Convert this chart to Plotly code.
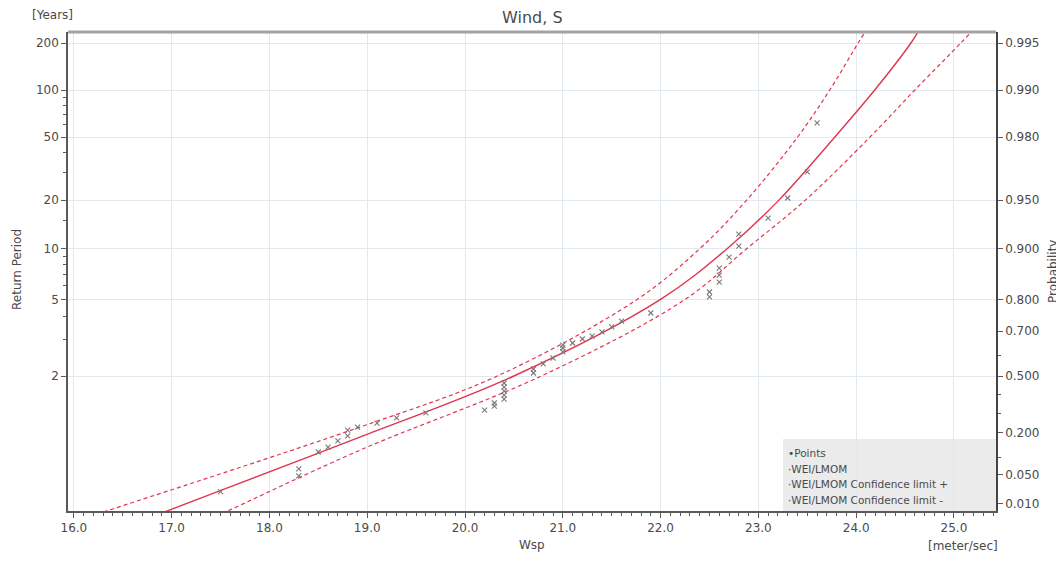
import numpy as np
import plotly.graph_objects as go

# ---------------- data ----------------
# empirical points: wind speed [m/s] and return period [years]
wsp_points = [17.5, 18.3, 18.3, 18.5, 18.6, 18.7, 18.8, 18.8, 18.9, 19.1, 19.3, 19.6,
              20.2, 20.3, 20.3, 20.4, 20.4, 20.4, 20.4, 20.4, 20.7, 20.7, 20.8, 20.9,
              21.0, 21.0, 21.0, 21.1, 21.2, 21.3, 21.4, 21.5, 21.6, 21.9, 22.5, 22.5,
              22.6, 22.6, 22.6, 22.7, 22.8, 22.8, 23.1, 23.3, 23.5, 23.6]
rp_points = [1.022, 1.050, 1.069, 1.134, 1.159, 1.195, 1.228, 1.272, 1.296, 1.331, 1.380, 1.432,
             1.465, 1.513, 1.552, 1.606, 1.664, 1.726, 1.792, 1.864, 2.063, 2.152, 2.272, 2.427,
             2.599, 2.722, 2.818, 2.887, 3.028, 3.138, 3.298, 3.509, 3.779, 4.189, 5.165, 5.519,
             6.313, 6.944, 7.645, 8.905, 10.38, 12.30, 15.45, 20.62, 30.1, 61.6]

# fitted WEI/LMOM curve
fit_wsp = [16.81, 16.95, 17.49, 18.93, 20.50, 22.00, 22.68, 23.21, 23.78, 24.19, 24.56, 24.64]
fit_rp = [1.004, 1.006, 1.023, 1.221, 2, 5, 10, 20, 50, 100, 200, 240]

# confidence limit +
upper_wsp = [16.17, 16.33, 18.93, 20.33, 21.76, 22.40, 22.88, 23.40, 23.73, 24.02, 24.10]
upper_rp = [1.004, 1.006, 1.297, 2, 5, 10, 20, 50, 100, 200, 240]

# confidence limit -
lower_wsp = [17.45, 17.57, 18.93, 20.78, 22.25, 22.88, 23.48, 24.14, 24.60, 25.07, 25.19]
lower_rp = [1.004, 1.006, 1.144, 2, 5, 10, 20, 50, 100, 200, 240]

rp_ticks = [2, 5, 10, 20, 50, 100, 200]
rp_minor = [3, 4, 6, 7, 8, 9, 15, 30, 40, 60, 70, 80, 90]
prob_ticks = [0.995, 0.990, 0.980, 0.950, 0.900, 0.800, 0.700, 0.500, 0.200, 0.050, 0.010]
prob_labels = ["0.995", "0.990", "0.980", "0.950", "0.900", "0.800", "0.700", "0.500",
               "0.200", "0.050", "0.010"]
prob_minor = [0.6, 0.4, 0.3, 0.1]

legend_labels = ["\u2022Points", "\u00b7WEI/LMOM", "\u00b7WEI/LMOM Confidence limit +",
                 "\u00b7WEI/LMOM Confidence limit -"]


# Gumbel reduced variate scale for the vertical axis
def g_from_p(p):
    p = np.asarray(p, dtype=float)
    return -np.log(-np.log(p))


def g_from_rp(t):
    t = np.asarray(t, dtype=float)
    return g_from_p(1.0 - 1.0 / t)


FONT = "DejaVu Sans"
TXT = "#4a4a4a"
RED = "#e0354f"
GRID = "#e2e8f0"
AX = "#5a5a5a"

fig = go.Figure()

fig.add_trace(go.Scatter(x=upper_wsp, y=g_from_rp(upper_rp), mode="lines",
                         line=dict(color=RED, width=1.2, dash="4px,3px", shape="spline"),
                         showlegend=False, hoverinfo="skip"))
fig.add_trace(go.Scatter(x=lower_wsp, y=g_from_rp(lower_rp), mode="lines",
                         line=dict(color=RED, width=1.2, dash="4px,3px", shape="spline"),
                         showlegend=False, hoverinfo="skip"))
fig.add_trace(go.Scatter(x=fit_wsp, y=g_from_rp(fit_rp), mode="lines",
                         line=dict(color=RED, width=1.4, shape="spline"),
                         showlegend=False, hoverinfo="skip"))
fig.add_trace(go.Scatter(x=wsp_points, y=g_from_rp(rp_points), mode="markers",
                         marker=dict(symbol="x-thin", size=5, color="#7a7a7a",
                                     line=dict(color="#7a7a7a", width=1.1)),
                         showlegend=False))
# invisible trace to activate the right-hand probability axis
fig.add_trace(go.Scatter(x=wsp_points, y=g_from_rp(rp_points), mode="markers",
                         marker=dict(opacity=0), yaxis="y2", showlegend=False,
                         hoverinfo="skip"))

YR = [-1.632, 5.459]

# the page body adds an 8px offset; margins compensate so the plot area
# sits at x 68..996, y 32..511 in the screenshot
fig.update_layout(
    width=1064, height=562,
    margin=dict(l=60, r=76, t=24, b=59),
    paper_bgcolor="white", plot_bgcolor="white",
    font=dict(family=FONT, size=12, color=TXT),
    xaxis=dict(range=[15.94, 25.43], tickmode="linear", tick0=16, dtick=1,
               tickformat=".1f", showgrid=True, gridcolor=GRID, gridwidth=1,
               zeroline=False, showline=True, linecolor=AX, linewidth=1.5,
               ticks="outside", ticklen=5, tickcolor=AX,
               tickfont=dict(family=FONT, size=12, color=TXT),
               minor=dict(tickmode="linear", tick0=16, dtick=0.1, ticks="outside",
                          ticklen=3, tickcolor=AX, showgrid=False)),
    yaxis=dict(range=YR, tickmode="array", tickvals=list(g_from_rp(rp_ticks)),
               ticktext=[str(v) for v in rp_ticks], showgrid=True, gridcolor=GRID,
               zeroline=False, showline=True, linecolor=AX, linewidth=1.5,
               ticks="outside", ticklen=5, tickcolor=AX,
               tickfont=dict(family=FONT, size=12, color=TXT),
               minor=dict(tickmode="array", tickvals=list(g_from_rp(rp_minor)),
                          ticks="outside", ticklen=3, tickcolor=AX, showgrid=False)),
    yaxis2=dict(range=YR, overlaying="y", side="right", tickmode="array",
                tickvals=list(g_from_p(prob_ticks)), ticktext=prob_labels,
                showgrid=False, zeroline=False, showline=True, linecolor="#444444",
                linewidth=1.5, ticks="outside", ticklen=5, tickcolor=AX,
                tickfont=dict(family=FONT, size=12, color=TXT),
                minor=dict(tickmode="array", tickvals=list(g_from_p(prob_minor)),
                           ticks="outside", ticklen=3, tickcolor=AX, showgrid=False)),
    showlegend=False,
)

# top frame line (thick grey) and legend panel
fig.add_shape(type="line", xref="paper", yref="paper", x0=0, x1=1, y0=1, y1=1,
              line=dict(color="#a3a3a3", width=3))
fig.add_shape(type="rect", xref="paper", yref="paper", x0=0.7705, x1=1.0, y0=0.0, y1=0.1503,
              fillcolor="#ebebeb", line=dict(width=0), layer="below")


def px_x(px):
    return (px - 68) / 928.0


def px_y(py):
    return (511 - py) / 479.0


ann = [
    dict(text="Wind, S", x=0.5, y=px_y(17), size=16),
    dict(text="[Years]", x=px_x(52), y=px_y(15), size=12),
    dict(text="Return Period", x=px_x(17), y=px_y(270), size=12, angle=-90),
    dict(text="Probability", x=px_x(1053), y=px_y(272), size=12, angle=-90),
    dict(text="Wsp", x=0.5, y=px_y(545), size=12),
    dict(text="[meter/sec]", x=px_x(963), y=px_y(546), size=12),
]
for a in ann:
    fig.add_annotation(text=a["text"], x=a["x"], y=a["y"], xref="paper", yref="paper",
                       showarrow=False, xanchor="center", yanchor="middle",
                       textangle=a.get("angle", 0),
                       font=dict(family=FONT, size=a["size"], color=TXT))

for i, lab in enumerate(legend_labels):
    fig.add_annotation(text=lab, x=px_x(786), y=px_y(453 + i * 15.7), xref="paper",
                       yref="paper", showarrow=False, xanchor="left", yanchor="middle",
                       font=dict(family=FONT, size=10.5, color=TXT))

fig.write_html("out.html")
